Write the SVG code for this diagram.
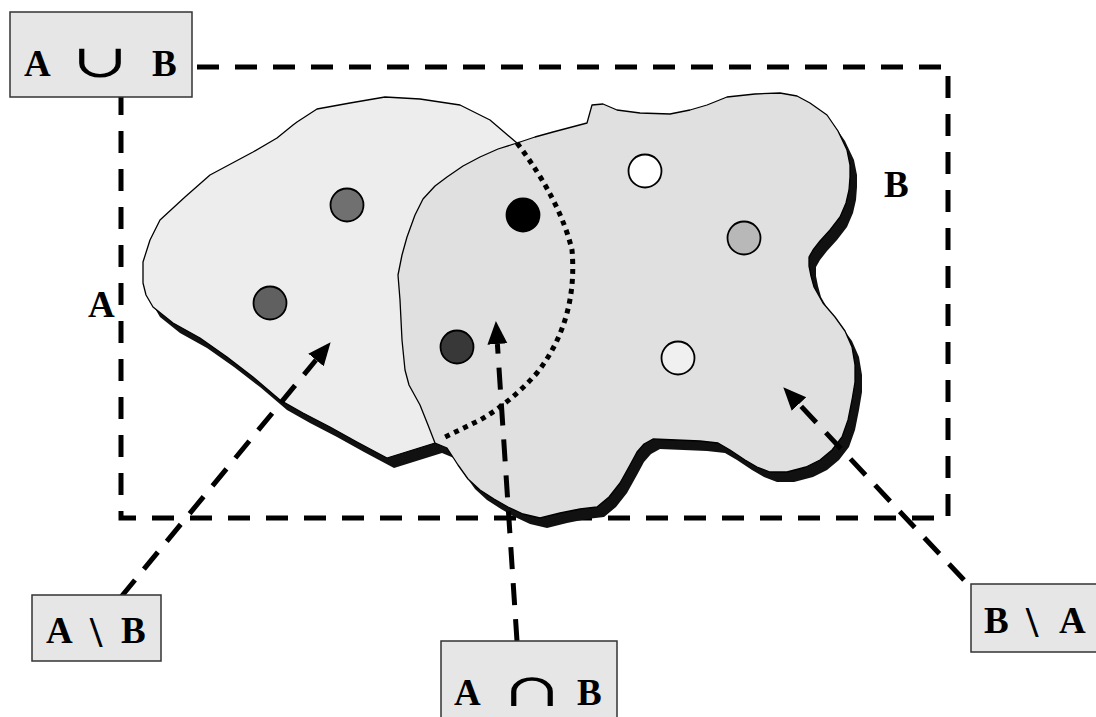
<svg xmlns="http://www.w3.org/2000/svg" width="1096" height="717" viewBox="0 0 1096 717">
<style>
.lbl{font-family:"Liberation Serif","Times New Roman",serif;font-weight:bold;font-size:37px;fill:#000}
.bs{font-size:44px}
.sym{font-family:"DejaVu Serif","Liberation Serif",serif;font-weight:normal;font-size:46px;fill:#000}
.box{fill:#e6e6e6;stroke:#333;stroke-width:1.5}
.region{stroke:#000;stroke-width:1.3;stroke-linejoin:round}
.shadow{fill:#111;stroke:none}
.dot{stroke:#000;stroke-width:1.8}
.conn{fill:none;stroke:#000;stroke-width:5;stroke-dasharray:22 14}
</style>
<defs>
<path id="shapeA" d="M517,143 L547,187 L567,223 L573,257 L570,297 L557,337 L537,373 L510,403 L480,420 L443,438 L435,443 L387,458 L357,442 L330,427 L303,413 L280,400 L253,377 L227,357 L200,338 L173,323 L153,307 L146,295 L143,283 L143,262 L150,240 L160,220 L185,197 L210,175 L253,152 L277,138 L293,125 L297,122 L317,109 L350,103 L385,97 L420,99 L460,105 L490,120 Z"/>
<path id="shapeB" d="M587,123 L592,105 L603,104 L617,110 L640,113 L670,114 L690,110 L707,105 L727,97 L755,94 L780,93 L797,96 L810,103 L827,115 L838,131 L847,150 L850,165 L850,177 L849,190 L846,203 L840,217 L830,230 L820,241 L813,250 L809,257 L809,266 L811,276 L814,287 L823,303 L835,317 L845,331 L852,347 L855,365 L855,382 L852,400 L848,420 L842,437 L832,450 L820,460 L806,467 L787,472 L770,472 L757,467 L745,460 L730,450 L718,443 L700,441 L653,439 L644,444 L637,452 L630,465 L620,483 L609,497 L597,507 L580,509 L560,513 L540,518 L523,514 L508,507 L494,499 L480,490 L468,479 L458,465 L447,448 L435,443 L428,425 L420,405 L409,385 L405,370 L402,340 L400,300 L398,275 L402,255 L407,237 L415,215 L423,199 L435,186 L447,177 L463,166 L480,157 L498,149 L517,143 L535,137 L553,132 Z"/>
<marker id="arrow" markerUnits="userSpaceOnUse" markerWidth="24" markerHeight="22" refX="0" refY="10" orient="auto" viewBox="0 0 24 22">
<path d="M0,0 L23,10 L0,20 Z" fill="#000"/>
</marker>
</defs>
<rect x="0" y="0" width="1096" height="717" fill="#fff"/>

<g id="universe">
<rect x="121" y="67" width="827" height="451" fill="none" stroke="#000" stroke-width="5" stroke-dasharray="22 16"/>
</g>

<g id="setA">
<use href="#shapeA" class="shadow" transform="translate(7,10)"/>
<use href="#shapeA" class="region" fill="#ededed"/>
</g>

<g id="setB">
<use href="#shapeB" class="shadow" transform="translate(7,10)"/>
<use href="#shapeB" class="region" fill="#e0e0e0"/>
<path d="M517,143 Q560,200 572,250 Q578,320 537,373 Q510,403 480,420 L443,438" fill="none" stroke="#000" stroke-width="5" stroke-dasharray="5 5"/>
</g>

<g id="elements">
<circle class="dot" cx="347" cy="205" r="16.5" fill="#707070"/>
<circle class="dot" cx="270" cy="303" r="16.5" fill="#606060"/>
<circle class="dot" cx="523" cy="215" r="16.5" fill="#000"/>
<circle class="dot" cx="457" cy="347" r="16.5" fill="#383838"/>
<circle class="dot" cx="645" cy="171" r="16.5" fill="#fff"/>
<circle class="dot" cx="744" cy="238" r="16.5" fill="#b8b8b8"/>
<circle class="dot" cx="678" cy="358" r="16.5" fill="#f0f0f0"/>
</g>

<g id="labelA"><text class="lbl" x="88" y="317">A</text></g>
<g id="labelB"><text class="lbl" x="884" y="197">B</text></g>

<g id="connectors">
<line class="conn" x1="121" y1="597" x2="316" y2="360" marker-end="url(#arrow)"/>
<line class="conn" x1="517" y1="641" x2="497.4" y2="344" marker-end="url(#arrow)"/>
<line class="conn" x1="964" y1="580" x2="799" y2="404" marker-end="url(#arrow)"/>
</g>

<g id="union">
<rect class="box" x="10" y="12" width="182" height="85"/>
<text class="lbl" x="24" y="76">A</text>
<text class="sym" transform="translate(100,77) scale(1.45,1)" text-anchor="middle">∪</text>
<text class="lbl" x="152" y="76">B</text>
</g>

<g id="diffAB">
<rect class="box" x="32" y="595" width="129" height="66"/>
<text class="lbl" y="643"><tspan x="46">A</tspan> <tspan class="bs" x="90" y="647">\</tspan> <tspan x="121" y="643">B</tspan></text>
</g>

<g id="intersection">
<rect class="box" x="441" y="641" width="176" height="90"/>
<text class="lbl" x="454" y="705">A</text>
<text class="sym" transform="translate(532,706) scale(1.45,1)" text-anchor="middle">∩</text>
<text class="lbl" x="577" y="705">B</text>
</g>

<g id="diffBA">
<rect class="box" x="971" y="584" width="140" height="68"/>
<text class="lbl" y="633"><tspan x="984">B</tspan> <tspan class="bs" x="1026" y="637">\</tspan> <tspan x="1059" y="633">A</tspan></text>
</g>
</svg>
